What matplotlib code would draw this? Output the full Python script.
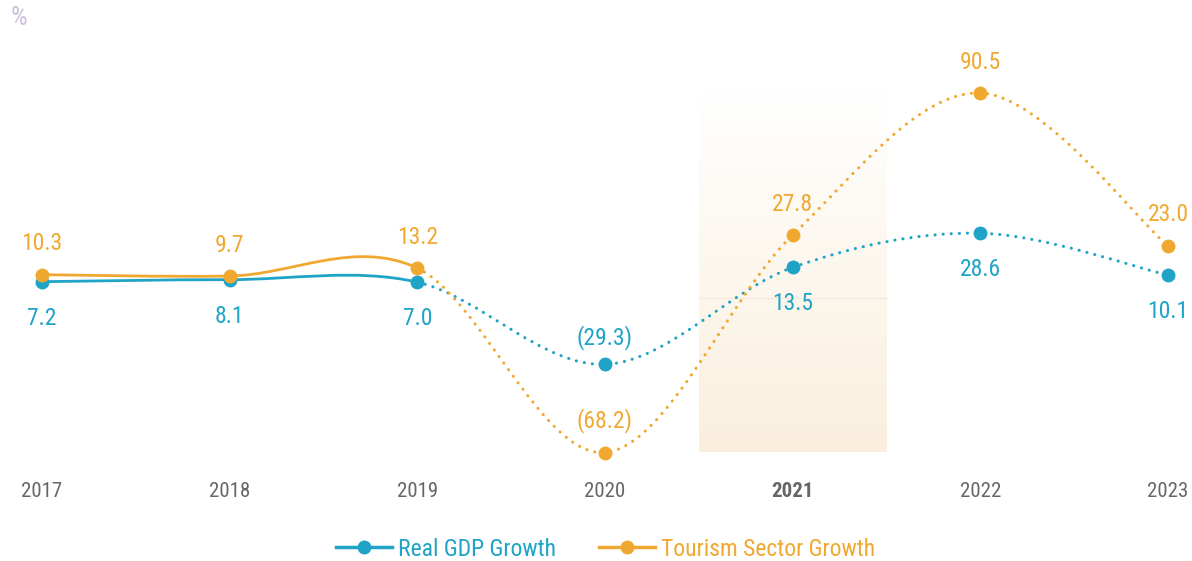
import numpy as np
import matplotlib.pyplot as plt
from matplotlib.lines import Line2D
from matplotlib.colors import LinearSegmentedColormap
from matplotlib.path import Path
from matplotlib.patches import PathPatch

plt.rcParams['font.family'] = ['Roboto Condensed', 'Liberation Sans Narrow', 'Roboto', 'DejaVu Sans']

years = ["2017", "2018", "2019", "2020", "2021", "2022", "2023"]
gdp_growth = [7.2, 8.1, 7.0, -29.3, 13.5, 28.6, 10.1]
tourism_growth = [10.3, 9.7, 13.2, -68.2, 27.8, 90.5, 23.0]
solid_until = 2  # index of 2019, dotted after (estimates)

BLUE = "#1fa3c6"
ORANGE = "#f0a830"


def cardinal_path(xs, ys, i0, i1):
    """Catmull-Rom (cardinal, tension 0) bezier path from point i0 to i1."""
    n = len(xs)
    pts = np.column_stack([xs, ys]).astype(float)
    verts = [tuple(pts[i0])]
    codes = [Path.MOVETO]
    for i in range(i0, i1):
        p0 = pts[max(i - 1, 0)]
        p1 = pts[i]
        p2 = pts[i + 1]
        p3 = pts[min(i + 2, n - 1)]
        c1 = p1 + (p2 - p0) / 6
        c2 = p2 - (p3 - p1) / 6
        verts += [tuple(c1), tuple(c2), tuple(p2)]
        codes += [Path.CURVE4] * 3
    return Path(verts, codes)


fig = plt.figure(figsize=(11.92, 5.61), dpi=100)
W, H = 1192, 561
ax = fig.add_axes([0, (H - 452.5) / H, 1, (452.5 - 93) / H])
x = np.arange(len(years))
ax.set_xlim(-42 / 187.67, 6 + 24 / 187.67)
ax.set_ylim(min(tourism_growth), max(tourism_growth))
for s in ax.spines.values():
    s.set_visible(False)
ax.set_yticks([])

# highlighted year band with vertical gradient (beige bottom -> white top)
cmap = LinearSegmentedColormap.from_list("band", ["#faefdd", "#ffffff"])
grad = np.linspace(0, 1, 256).reshape(-1, 1)
ax.imshow(grad, extent=(3.5, 4.5, min(tourism_growth), max(tourism_growth)),
          origin="lower", aspect="auto", cmap=cmap, zorder=0)
ax.plot([3.5, 4.5], [0, 0], color="#f3eadc", lw=0.8, zorder=1)

for vals, color in [(gdp_growth, BLUE), (tourism_growth, ORANGE)]:
    p1 = cardinal_path(x, vals, 0, solid_until)
    p2 = cardinal_path(x, vals, solid_until, len(x) - 1)
    ax.add_patch(PathPatch(p1, fill=False, edgecolor=color, lw=2.0, zorder=3,
                           capstyle="round", clip_on=False))
    ax.add_patch(PathPatch(p2, fill=False, edgecolor=color, lw=2.2, zorder=3,
                           linestyle=(0, (0.05, 2.6)), capstyle="round",
                           clip_on=False))
    ax.plot(x, vals, "o", color=color, ms=9, zorder=4, clip_on=False)


def fmt(v):
    return f"({abs(v):.1f})" if v < 0 else f"{v:.1f}"


for i, v in enumerate(tourism_growth):
    ax.annotate(fmt(v), (x[i], v), xytext=(0, 14), textcoords="offset points",
                ha="center", va="bottom", color=ORANGE, fontsize=17,
                annotation_clip=False)
for i, v in enumerate(gdp_growth):
    if v < 0:
        ax.annotate(fmt(v), (x[i], v), xytext=(0, 10), textcoords="offset points",
                    ha="center", va="bottom", color=BLUE, fontsize=17,
                    annotation_clip=False)
    else:
        ax.annotate(fmt(v), (x[i], v), xytext=(0, -18), textcoords="offset points",
                    ha="center", va="top", color=BLUE, fontsize=17,
                    annotation_clip=False)

ax.set_xticks(x)
ax.set_xticklabels(years, fontsize=15, color="#666666")
ax.tick_params(axis="x", length=0, pad=21)
ax.get_xticklabels()[4].set_fontweight("bold")

fig.text(11 / W, 1 - 18 / H, "%", color="#cbbfdf", fontsize=19, va="center")

handles = [
    Line2D([], [], color=BLUE, lw=2.5, marker="o", ms=9, label="Real GDP Growth"),
    Line2D([], [], color=ORANGE, lw=2.5, marker="o", ms=9, label="Tourism Sector Growth"),
]
leg = fig.legend(handles=handles, loc="center", bbox_to_anchor=(0.508, 1 - 549 / H),
                 ncol=2, frameon=False, fontsize=17, handlelength=2.4,
                 handletextpad=0.25, columnspacing=1.8, labelcolor="linecolor")

fig.savefig("out.png", dpi=100)
